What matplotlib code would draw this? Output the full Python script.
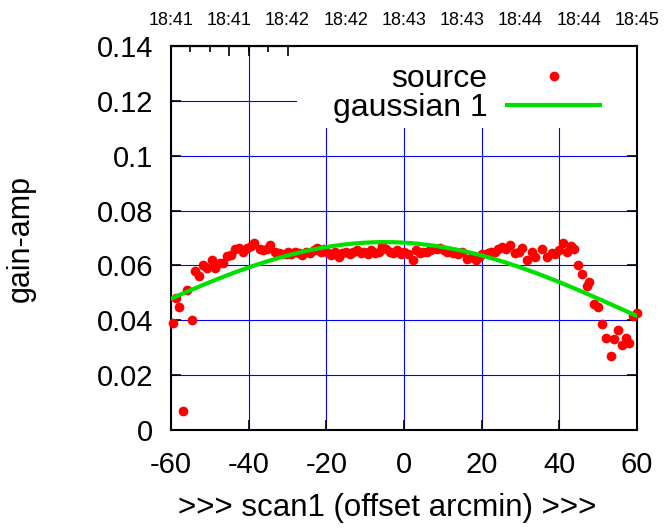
import numpy as np
import matplotlib
matplotlib.use('Agg')
import matplotlib.pyplot as plt
from matplotlib.ticker import MultipleLocator
from matplotlib.patches import Rectangle

plt.rcParams['font.family'] = ['Liberation Sans', 'DejaVu Sans']
plt.rcParams['axes.unicode_minus'] = False

# measured points (offset arcmin, gain-amp)
src_x = [-59.5, -58.7, -57.9, -56.9, -55.9, -54.6, -53.8, -52.8, -51.8, -50.7,
         -49.4, -48.6, -47.4, -46.6, -45.6, -44.6, -43.5, -42.5, -41.5, -40.4,
         -39.5, -38.6, -37.1, -36.3, -35.4, -34.5, -33.2, -32.3, -31.4, -30.5,
         -29.9, -29.0, -28.0, -27.1, -26.2, -25.2, -24.3, -23.3, -22.4, -21.5,
         -20.6, -19.6, -18.7, -17.8, -16.8, -15.9, -15.0, -14.0, -13.1, -12.1,
         -11.2, -10.3, -9.3, -8.4, -7.5, -6.5, -5.6, -4.7, -3.7, -2.8,
         -1.9, -0.9, 0.0, 1.0, 2.3, 3.1, 4.1, 5.0, 5.9, 6.7,
         7.5, 8.4, 9.3, 10.2, 11.1, 12.6, 13.8, 15.0, 16.2, 17.5,
         18.5, 19.3, 20.1, 21.6, 22.5, 23.4, 24.3, 25.2, 26.2, 27.3,
         28.6, 29.5, 30.4, 31.7, 33.0, 33.7, 35.5, 36.8, 38.1, 38.9,
         39.9, 41.0, 42.0, 43.0, 43.8, 44.8, 45.8, 47.1, 47.6, 48.9,
         50.0, 51.0, 52.0, 53.3, 54.1, 55.1, 56.2, 57.2, 58.0, 59.0, 60.0]
src_y = [0.039, 0.048, 0.045, 0.007, 0.051, 0.040, 0.058, 0.056, 0.060, 0.059,
         0.062, 0.059, 0.061, 0.061, 0.0634, 0.0638, 0.066, 0.0664, 0.065, 0.0664,
         0.067, 0.068, 0.066, 0.0656, 0.066, 0.0674, 0.065, 0.0645, 0.064, 0.064,
         0.065, 0.064, 0.065, 0.0644, 0.0638, 0.065, 0.0645, 0.0655, 0.0662, 0.065,
         0.066, 0.0645, 0.0638, 0.065, 0.0632, 0.0645, 0.065, 0.064, 0.0648, 0.0655,
         0.0645, 0.065, 0.064, 0.0656, 0.0645, 0.065, 0.067, 0.066, 0.065, 0.0645,
         0.0655, 0.064, 0.065, 0.064, 0.062, 0.0656, 0.0645, 0.065, 0.065, 0.0655,
         0.066, 0.066, 0.0664, 0.0658, 0.065, 0.0645, 0.064, 0.065, 0.0623, 0.063,
         0.062, 0.063, 0.064, 0.0645, 0.065, 0.065, 0.066, 0.0667, 0.066, 0.0674,
         0.0645, 0.065, 0.0664, 0.062, 0.065, 0.063, 0.066, 0.063, 0.0645, 0.064,
         0.0656, 0.068, 0.065, 0.067, 0.066, 0.060, 0.057, 0.0525, 0.054, 0.046,
         0.045, 0.0386, 0.0335, 0.027, 0.0332, 0.0365, 0.031, 0.0335, 0.0317, 0.0416, 0.0427]

# gaussian fit parameters
g_amp = 0.0685
g_mu = -5.0
g_sigma = 65.0

top_labels = ['18:41', '18:41', '18:42', '18:42', '18:43', '18:43', '18:44', '18:44', '18:45']

fig = plt.figure(figsize=(6.66, 5.29), dpi=100)
ax = fig.add_axes([171/666, 1 - 430/529, 466/666, 384/529])

gx = np.linspace(-60, 60, 300)
gy = g_amp * np.exp(-(gx - g_mu)**2 / (2 * g_sigma**2))

ax.plot(src_x, src_y, 'o', color='red', markersize=7, markeredgewidth=0,
        label='source', zorder=3, clip_on=False)
ax.plot(gx, gy, '-', color='#00e000', linewidth=3, label='gaussian 1', zorder=4)

ax.set_xlim(-60, 60)
ax.set_ylim(0, 0.14)
ax.xaxis.set_major_locator(MultipleLocator(20))
ax.set_yticks(np.arange(0, 0.1401, 0.02))
ax.set_yticklabels(['0', '0.02', '0.04', '0.06', '0.08', '0.1', '0.12', '0.14'])
ax.grid(True, color='#0000ff', linewidth=0.8, zorder=0)
ax.set_axisbelow(True)
ax.tick_params(direction='in', length=7, width=1.2, labelsize=21,
               top=True, right=True)
ax.tick_params(axis='x', pad=15)
ax.tick_params(axis='y', pad=13)
for s in ax.spines.values():
    s.set_linewidth(1.5)

ax.set_xlabel('>>> scan1 (offset arcmin) >>>', fontsize=22.5)
ax.xaxis.set_label_coords(0.4635, -0.163)
ax.set_ylabel('gain-amp', fontsize=22)
ax.yaxis.set_label_coords(-0.29, 0.5)

top = ax.secondary_xaxis('top')
top.set_xticks(np.arange(-60, 61, 15))
top.set_xticklabels(top_labels, fontsize=13)
top.xaxis.set_minor_locator(MultipleLocator(5))
top.tick_params(which='major', direction='in', length=7, width=1.2, pad=12)
top.tick_params(which='minor', direction='in', length=4, width=1.2)
top.spines['top'].set_linewidth(1.5)

# white key area as in gnuplot
ax.add_patch(Rectangle((0.27, 0.786), 0.73, 0.214, transform=ax.transAxes,
                       facecolor='white', edgecolor='none', zorder=2))

leg = ax.legend(loc='upper right', bbox_to_anchor=(600/666, 1 - 64/529),
                bbox_transform=fig.transFigure, fontsize=23,
                frameon=False, markerfirst=False, handlelength=2.9,
                borderaxespad=0, borderpad=0, labelspacing=-0.02,
                handletextpad=0.62)
leg.set_zorder(5)

fig.savefig('out.png', dpi=100)
